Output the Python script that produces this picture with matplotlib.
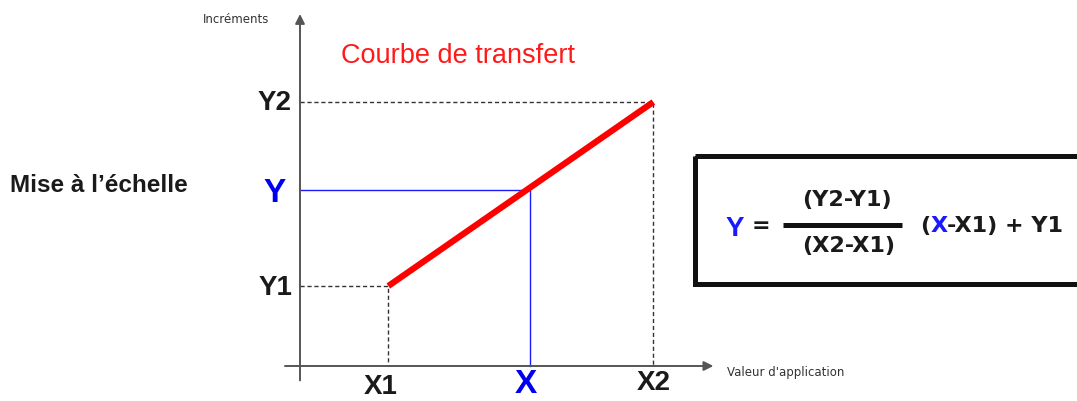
import matplotlib.pyplot as plt
from matplotlib.patches import Rectangle

plt.rcParams['font.family'] = ['Liberation Sans', 'DejaVu Sans']

# valeurs du schéma (unités arbitraires)
x1, x, x2 = 1.0, 2.6, 4.0
y1, y, y2 = 1.0, 2.2, 3.3
courbe_x = [x1, x2]
courbe_y = [y1, y2]

W, H = 1077, 401
fig = plt.figure(figsize=(W / 100, H / 100), dpi=100)

# axe du schéma : origine à (300, 366) px
ax = fig.add_axes([0, 0, 1, 1])
ax.set_xlim(-300 / 88.33, (W - 300) / 88.33)
ax.set_ylim(-(H - 366) / 80, 366 / 80)
ax.axis('off')

# calque en pixels pour les textes et le cadre
lay = fig.add_axes([0, 0, 1, 1])
lay.set_xlim(0, W)
lay.set_ylim(H, 0)
lay.axis('off')
lay.patch.set_alpha(0)

# axes avec flèches
ax.annotate('', xy=(4.68, 0), xytext=(-0.17, 0),
            arrowprops=dict(arrowstyle='-|>', color='#555555', lw=1.4,
                            mutation_scale=14, shrinkA=0, shrinkB=0))
ax.annotate('', xy=(0, 4.4), xytext=(0, -0.18),
            arrowprops=dict(arrowstyle='-|>', color='#555555', lw=1.4,
                            mutation_scale=14, shrinkA=0, shrinkB=0))

# pointillés Y1 / Y2
for xv, yv in [(x1, y1), (x2, y2)]:
    ax.plot([0, xv, xv], [yv, yv, 0], color='#333333', lw=1,
            linestyle=(0, (3, 2)))

# repère bleu X / Y
ax.plot([0, x, x], [y, y, 0], color='#1a1aff', lw=1)

# courbe de transfert
ax.plot(courbe_x, courbe_y, color='#ff0000', lw=4.5, solid_capstyle='butt')

# étiquettes
noir = '#1a1a1a'
bleu = '#0000ee'
lay.text(292, 110, 'Y2', fontsize=20, fontweight='bold', color=noir, ha='right', va='baseline')
lay.text(292, 295, 'Y1', fontsize=20, fontweight='bold', color=noir, ha='right', va='baseline')
lay.text(286, 202, 'Y', fontsize=24, fontweight='bold', color=bleu, ha='right', va='baseline')
lay.text(381, 400, 'X1', fontsize=20, fontweight='bold', color=noir, ha='center', va='bottom')
lay.text(526, 400, 'X', fontsize=24, fontweight='bold', color=bleu, ha='center', va='bottom')
lay.text(654, 390, 'X2', fontsize=20, fontweight='bold', color=noir, ha='center', va='baseline')

petit = dict(fontsize=8.5, color='#333333', family='DejaVu Sans', va='baseline', ha='left')
lay.text(203, 23, 'Incréments', **petit)
lay.text(727, 376, "Valeur d'application", **petit)
lay.text(341, 63, 'Courbe de transfert', fontsize=19.5, color='#ff1a1a', ha='left', va='baseline')
lay.text(10, 192, "Mise à l’échelle", fontsize=17.5, color=noir, ha='left', va='baseline',
         fontweight='bold')

# cadre de la formule
lay.add_patch(Rectangle((694.5, 155.5), 420, 128.5, fill=False, edgecolor='#111111', lw=3.6))

f = dict(fontsize=16, fontweight='bold', color=noir, family='DejaVu Sans', va='baseline')
lay.text(735, 236, 'Y', fontsize=20, fontweight='bold', color='#1a1aff', ha='center', va='baseline')
lay.text(761, 226, '=', ha='center', **{**f, 'va': 'center'})
lay.plot([783, 902], [224.5, 224.5], color='#111111', lw=3.6, solid_capstyle='butt')
lay.text(846.5, 206, '(Y2-Y1)', ha='center', **f)
lay.text(849, 252, '(X2-X1)', ha='center', **f)

# (X-X1) + Y1 avec le X en bleu, morceaux posés à la suite
fig.canvas.draw()
r = fig.canvas.get_renderer()
pos = 920
for morceau, coul in [('(', noir), ('X', '#1a1aff'), ('-X1) + Y1', noir)]:
    t = lay.text(pos, 232, morceau, ha='left', **{**f, 'color': coul})
    pos += t.get_window_extent(r).width

fig.savefig('out.png', dpi=100)
